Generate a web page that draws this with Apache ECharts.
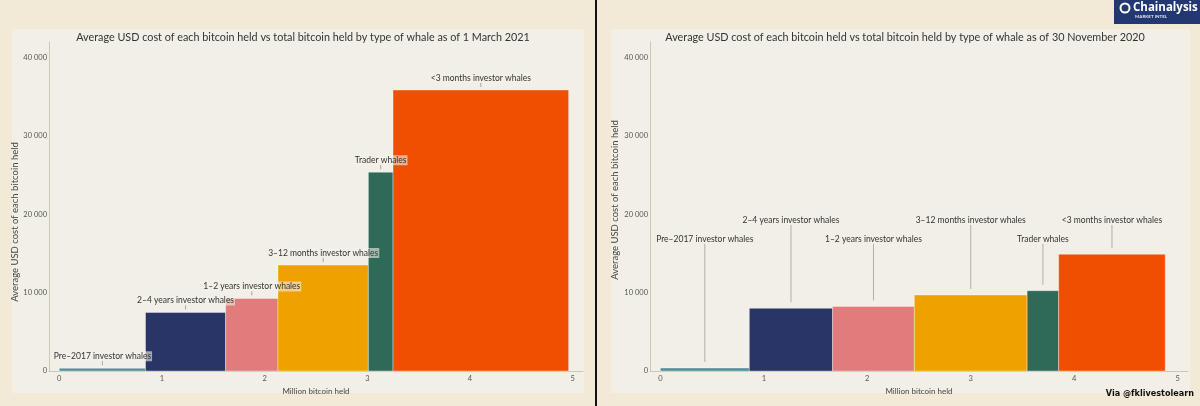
<!DOCTYPE html>
<html>
<head>
<meta charset="utf-8">
<script src="https://cdn.jsdelivr.net/npm/echarts@6/dist/echarts.min.js"></script>
<style>
  html, body { margin: 0; padding: 0; background: #f2e9d7; }
  #chart { width: 1200px; height: 406px; }
</style>
</head>
<body>
<div id="chart"></div>
<script>
// whale groups, left to right
const whaleTypes = [
  'Pre–2017 investor whales',
  '2–4 years investor whales',
  '1–2 years investor whales',
  '3–12 months investor whales',
  'Trader whales',
  '<3 months investor whales'
];
// million bitcoin held (bar widths) and average USD cost (bar heights)
const heldMar2021 = [0.84, 0.78, 0.51, 0.88, 0.24, 1.71];
const costMar2021 = [350, 7470, 9270, 13520, 25380, 35870];
const heldNov2020 = [0.86, 0.805, 0.79, 1.09, 0.305, 1.03];
const costNov2020 = [380, 8000, 8250, 9700, 10250, 14900];

const xTicks = [0, 1, 2, 3, 4, 5];
const yTicks = [0, 10000, 20000, 30000, 40000];

const titleMar = 'Average USD cost of each bitcoin held vs total bitcoin held by type of whale as of 1 March 2021';
const titleNov = 'Average USD cost of each bitcoin held vs total bitcoin held by type of whale as of 30 November 2020';

const colors = ['#4f8f96', '#283566', '#e27b7b', '#efa100', '#2f6a58', '#f04e00'];
const FONT = 'Lato, "Open Sans", sans-serif';

// [start, end, cost, index]
function buildRows(held, cost) {
  let start = 0;
  return held.map((h, i) => {
    const row = [start, start + h, cost[i], i];
    start += h;
    return row;
  });
}

function fmtThousands(v) {
  return String(v).replace(/\B(?=(\d{3})+(?!\d))/g, ' ');
}

// labelMode: 'tight' = label just above the bar, 'leader' = two tiers with long lines
function makeRender(labelMode) {
  return function (params, api) {
    const x0 = api.value(0), x1 = api.value(1), cost = api.value(2), idx = api.value(3);
    const topLeft = api.coord([x0, cost]);
    const botRight = api.coord([x1, 0]);
    const cx = (topLeft[0] + botRight[0]) / 2;
    const top = topLeft[1];
    const children = [{
      type: 'rect',
      shape: { x: topLeft[0], y: top, width: botRight[0] - topLeft[0], height: botRight[1] - top },
      style: { fill: colors[idx], stroke: 'rgba(255,255,255,0.45)', lineWidth: 0.8 },
      z2: 0
    }];
    if (labelMode === 'tight') {
      children.push({
        type: 'line',
        shape: { x1: cx, y1: top - 7.5, x2: cx, y2: top - 3 },
        style: { stroke: '#a8a69e', lineWidth: 1 },
        z2: 5
      });
      children.push({
        type: 'text',
        x: cx, y: top - 12,
        style: {
          text: whaleTypes[idx], fill: '#333', fontSize: 8.5, fontFamily: FONT,
          align: 'center', verticalAlign: 'middle',
          backgroundColor: 'rgba(242,240,232,0.6)', padding: [1, 1, 0, 1]
        },
        z2: 10
      });
    } else {
      const gridTop = params.coordSys.y;
      const ty = gridTop + (idx % 2 === 1 ? 178 : 197);
      children.push({
        type: 'line',
        shape: { x1: cx, y1: ty + 5, x2: cx, y2: top - 6 },
        style: { stroke: '#b0aea6', lineWidth: 1 },
        z2: 5
      });
      children.push({
        type: 'text',
        x: cx, y: ty,
        style: {
          text: whaleTypes[idx], fill: '#333', fontSize: 8.5, fontFamily: FONT,
          align: 'center', verticalAlign: 'middle'
        },
        z2: 10
      });
    }
    return { type: 'group', children: children };
  };
}

const axisLineStyle = { color: '#c9c6bb', width: 1 };

function xAxisFor(i) {
  return {
    type: 'value', gridIndex: i, min: -0.1, max: 5.1,
    name: 'Million bitcoin held', nameLocation: 'middle', nameGap: 13,
    nameTextStyle: { fontFamily: FONT, fontSize: 8, color: '#444' },
    axisLine: { show: true, onZero: false, lineStyle: axisLineStyle },
    axisTick: { show: false },
    splitLine: { show: false },
    axisLabel: { customValues: xTicks, fontSize: 7.5, color: '#555', margin: 4, fontFamily: FONT }
  };
}

function yAxisFor(i) {
  return {
    type: 'value', gridIndex: i, min: 0, max: 42000,
    axisLine: { show: true, onZero: false, lineStyle: axisLineStyle },
    axisTick: { show: false },
    splitLine: { show: false },
    axisLabel: { customValues: yTicks, fontSize: 7.5, color: '#555', margin: 2, fontFamily: FONT, formatter: fmtThousands }
  };
}

const chart = echarts.init(document.getElementById('chart'));

const option = {
  backgroundColor: '#f2e9d7',
  animation: false,
  title: [
    { text: titleMar, left: 298, top: 27, textAlign: 'center',
      textStyle: { fontFamily: FONT, fontSize: 10.8, fontWeight: 'normal', color: '#333' } },
    { text: titleNov, left: 900, top: 27, textAlign: 'center',
      textStyle: { fontFamily: FONT, fontSize: 10.8, fontWeight: 'normal', color: '#333' } }
  ],
  grid: [
    { left: 49, top: 42, width: 534, height: 329 },
    { left: 650, top: 42, width: 538, height: 329 }
  ],
  xAxis: [xAxisFor(0), xAxisFor(1)],
  yAxis: [yAxisFor(0), yAxisFor(1)],
  series: [
    { type: 'custom', xAxisIndex: 0, yAxisIndex: 0, renderItem: makeRender('tight'),
      data: buildRows(heldMar2021, costMar2021), encode: { x: [0, 1], y: 2 }, z: 3 },
    { type: 'custom', xAxisIndex: 1, yAxisIndex: 1, renderItem: makeRender('leader'),
      data: buildRows(heldNov2020, costNov2020), encode: { x: [0, 1], y: 2 }, z: 3 }
  ],
  graphic: [
    { type: 'rect', z: -1, shape: { x: 12, y: 29, width: 572, height: 364 }, style: { fill: '#f2f0e6' } },
    { type: 'rect', z: -1, shape: { x: 611, y: 29, width: 579, height: 364 }, style: { fill: '#f2f0e6' } },
    { type: 'rect', z: 20, shape: { x: 595, y: 0, width: 2, height: 406 }, style: { fill: '#111' } },
    { type: 'text', z: 20, x: 15, y: 222, rotation: Math.PI / 2,
      style: { text: 'Average USD cost of each bitcoin held', fill: '#444', fontSize: 9.5, fontFamily: FONT,
        align: 'center', verticalAlign: 'middle' } },
    { type: 'text', z: 20, x: 615, y: 200, rotation: Math.PI / 2,
      style: { text: 'Average USD cost of each bitcoin held', fill: '#444', fontSize: 9.5, fontFamily: FONT,
        align: 'center', verticalAlign: 'middle' } },
    // logo
    { type: 'rect', z: 20, shape: { x: 1114, y: 0, width: 86, height: 24 }, style: { fill: '#233772' } },
    { type: 'circle', z: 21, shape: { cx: 1125, cy: 8, r: 4.5 }, style: { fill: 'none', stroke: '#fff', lineWidth: 2 } },
    { type: 'text', z: 21, x: 1133, y: 8,
      style: { text: 'Chainalysis', fill: '#fff', fontSize: 11.5, fontWeight: 'bold', fontFamily: '"Open Sans", sans-serif',
        align: 'left', verticalAlign: 'middle' } },
    { type: 'text', z: 21, x: 1135, y: 17,
      style: { text: 'MARKET INTEL', fill: '#dfe3ee', fontSize: 4.5, fontWeight: 'bold', fontFamily: FONT,
        align: 'left', verticalAlign: 'middle' } },
    { type: 'text', z: 20, x: 1194, y: 394,
      style: { text: 'Via @fklivestolearn', fill: '#111', fontSize: 9, fontWeight: 'bold',
        fontFamily: '"Liberation Sans Narrow", "DejaVu Sans Condensed", sans-serif',
        align: 'right', verticalAlign: 'middle' } }
  ]
};

chart.setOption(option);
</script>
</body>
</html>
